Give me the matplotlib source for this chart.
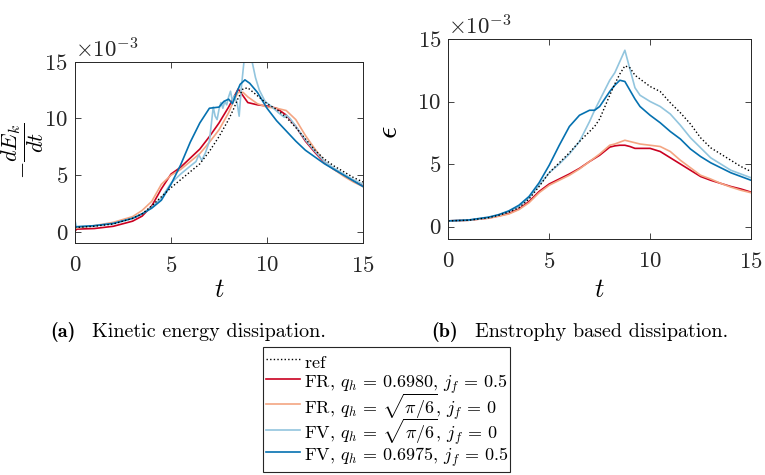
import numpy as np
import matplotlib as mpl
mpl.use("Agg")
from matplotlib import pyplot as plt

mpl.rcParams['font.family'] = 'serif'
mpl.rcParams['font.serif'] = ['cmr10']
mpl.rcParams['mathtext.fontset'] = 'cm'
mpl.rcParams['axes.formatter.use_mathtext'] = True
mpl.rcParams['axes.unicode_minus'] = False

# colours (RdBu)
c_fr1 = '#ca0020'
c_fr2 = '#f4a582'
c_fv1 = '#92c5de'
c_fv2 = '#0571b0'

labels = [r'$\mathrm{ref}$',
          r'FR, $q_h \,=\, 0.6980$, $j_f \,=\, 0.5$',
          r'FR, $q_h \,=\, \sqrt{\pi/6}$, $j_f \,=\, 0$',
          r'FV, $q_h \,=\, \sqrt{\pi/6}$, $j_f \,=\, 0$',
          r'FV, $q_h \,=\, 0.6975$, $j_f \,=\, 0.5$']

# ---- (a) kinetic energy dissipation, values in 1e-3 ----
t_a = [0, 0.1, 1, 2, 3, 3.5, 4, 4.5, 5, 5.5, 6, 6.5, 7, 7.5, 8, 8.25, 8.5, 8.75,
       9, 9.5, 10, 10.5, 11, 11.5, 12, 12.5, 13, 13.5, 14, 14.5, 15]
ref_a = [0.4, 0.4, 0.5, 0.7, 1.2, 1.6, 2.3, 3.1, 3.9, 4.6, 5.3, 6.0, 7.1, 8.4, 9.9, 10.8,
         11.8, 12.6, 12.7, 12.0, 11.3, 10.8, 10.1, 9.2, 8.2, 7.2, 6.4, 5.8, 5.3, 4.8, 4.4]
fr1_a = [0.1, 0.25, 0.3, 0.5, 0.95, 1.4, 2.3, 3.8, 5.1, 5.7, 6.5, 7.3, 8.4, 9.6, 11.0, 11.8,
         12.6, 12.0, 11.4, 11.2, 11.1, 10.9, 10.3, 9.3, 8.0, 7.0, 6.1, 5.5, 5.0, 4.5, 4.1]
fr2_a = [0.35, 0.35, 0.55, 0.85, 1.35, 1.9, 2.7, 4.2, 5.0, 5.5, 6.2, 6.9, 7.9, 9.0, 10.5, 11.5,
         12.3, 12.3, 11.9, 11.3, 11.0, 10.9, 10.7, 9.9, 8.5, 7.3, 6.2, 5.5, 4.9, 4.4, 4.0]
t_a2 = [0, 1, 2, 3, 3.5, 4, 4.5, 5, 5.5, 6, 6.5, 7, 7.5, 7.75, 8, 8.2, 8.4, 8.6, 8.85,
        9.1, 9.5, 10, 10.5, 11, 11.5, 12, 12.5, 13, 13.5, 14, 14.5, 15]
fv2_a = [0.45, 0.55, 0.75, 1.2, 1.6, 2.1, 2.8, 4.2, 5.9, 7.9, 9.6, 10.9, 11.0, 11.5, 11.7,
         11.3, 12.2, 13.0, 13.4, 13.1, 12.3, 10.9, 9.8, 8.9, 8.0, 7.2, 6.6, 6.0, 5.5, 5.0, 4.5, 4.0]
t_a3 = [0, 0.08, 1, 2, 3, 3.5, 4, 4.5, 5, 5.5, 6, 6.3, 6.45, 6.6, 6.8, 7.0, 7.1, 7.2, 7.3,
        7.4, 7.5, 7.6, 7.7, 7.8, 7.9, 8.0, 8.1, 8.2, 8.3, 8.45, 8.55, 8.65, 8.8, 8.95, 9.1,
        9.25, 9.4, 9.6, 9.9, 10.2, 10.6, 10.9, 11.0, 11.2, 11.5, 12, 12.5, 13, 13.5, 14, 14.5, 15]
fv1_a = [1.0, 0.45, 0.55, 0.75, 1.2, 1.6, 2.2, 3.0, 4.3, 5.1, 5.8, 6.2, 6.8, 6.3, 7.0, 8.0,
         9.5, 11.0, 10.2, 9.9, 10.8, 11.4, 10.9, 11.5, 11.2, 11.9, 12.4, 11.5, 12.0, 11.3,
         10.2, 12.5, 15.0, 15.8, 15.9, 14.8, 13.6, 12.5, 11.5, 11.1, 10.5, 10.1, 10.3, 10.0,
         9.3, 8.1, 7.1, 6.2, 5.6, 5.1, 4.6, 4.2]

# ---- (b) enstrophy based dissipation, values in 1e-3 ----
t_b = [0, 1, 2, 2.5, 3, 3.5, 4, 4.5, 5, 5.5, 6, 6.5, 7, 7.25, 7.5, 8, 8.25, 8.5, 8.75,
       9, 9.25, 9.5, 10, 10.5, 11, 11.5, 12, 12.5, 13, 13.5, 14, 14.5, 15]
ref_b = [0.45, 0.5, 0.7, 0.9, 1.15, 1.5, 2.2, 3.2, 4.3, 5.1, 5.9, 6.8, 7.6, 8.0, 8.6, 10.5,
         11.4, 12.2, 12.85, 12.7, 12.1, 11.8, 11.2, 10.8, 9.9, 9.1, 8.2, 7.1, 6.3, 5.8, 5.3, 4.8, 4.4]
fr1_b = [0.45, 0.5, 0.68, 0.85, 1.05, 1.4, 2.0, 2.8, 3.4, 3.8, 4.2, 4.65, 5.2, 5.45, 5.7, 6.35,
         6.45, 6.5, 6.5, 6.4, 6.25, 6.25, 6.25, 6.0, 5.5, 5.0, 4.5, 4.0, 3.7, 3.45, 3.2, 3.0, 2.75]
fr2_b = [0.45, 0.5, 0.66, 0.82, 1.0, 1.35, 1.9, 2.7, 3.3, 3.7, 4.1, 4.6, 5.2, 5.5, 5.8, 6.5,
         6.6, 6.75, 6.9, 6.8, 6.7, 6.6, 6.5, 6.4, 6.0, 5.3, 4.7, 4.1, 3.8, 3.45, 3.15, 2.9, 2.7]
fv1_b = [0.45, 0.5, 0.72, 0.92, 1.2, 1.6, 2.3, 3.3, 4.3, 5.0, 5.8, 6.8, 8.4, 9.3, 10.1, 11.7,
         12.3, 13.2, 14.1, 12.6, 11.1, 10.5, 10.0, 9.6, 9.0, 8.1, 7.1, 6.3, 5.5, 5.0, 4.5, 4.2, 3.9]
fv2_b = [0.45, 0.52, 0.75, 0.95, 1.25, 1.7, 2.4, 3.5, 4.9, 6.5, 8.0, 8.9, 9.3, 9.3, 9.6, 10.8,
         11.3, 11.7, 11.6, 10.9, 10.2, 9.6, 8.9, 8.3, 7.6, 7.0, 6.2, 5.6, 5.1, 4.7, 4.3, 4.0, 3.7]

fig = plt.figure(figsize=(7.65, 4.75), dpi=100)
W, H = 765.0, 475.0
ax1 = fig.add_axes([75 / W, 1 - 243.3 / H, 288 / W, 181.6 / H])
ax2 = fig.add_axes([448.3 / W, 1 - 239 / H, 302.7 / W, 200 / H])

lw = 1.2
s = 1e-3
ref_style = dict(color='k', lw=1.0, ls=(0, (1, 1.6)))

lines = []
for ax, data in [(ax1, [(t_a, fr1_a, c_fr1), (t_a, fr2_a, c_fr2), (t_a3, fv1_a, c_fv1),
                        (t_a2, fv2_a, c_fv2)]),
                 (ax2, [(t_b, fr1_b, c_fr1), (t_b, fr2_b, c_fr2), (t_b, fv1_b, c_fv1),
                        (t_b, fv2_b, c_fv2)])]:
    hs = []
    for t, v, c in data:
        h, = ax.plot(t, np.array(v) * s, color=c, lw=lw)
        hs.append(h)
    if ax is ax1:
        hr, = ax.plot(t_a, np.array(ref_a) * s, **ref_style)
        lines = [hr] + hs
    else:
        ax.plot(t_b, np.array(ref_b) * s, **ref_style)

for ax in (ax1, ax2):
    ax.set_xlim(0, 15)
    ax.set_ylim(-1e-3, 15e-3)
    ax.set_xticks([0, 5, 10, 15])
    ax.set_yticks([0, 5e-3, 10e-3, 15e-3])
    ax.ticklabel_format(axis='y', style='sci', scilimits=(-3, -3), useMathText=True)
    ax.yaxis.get_offset_text().set_fontsize(16.5)
    ax.tick_params(direction='in', length=4.5, width=0.6, colors='#262626',
                   labelsize=16.5, top=True, right=True)
    ax.tick_params(axis='x', pad=9)
    ax.tick_params(axis='y', pad=5)
    for sp in ax.spines.values():
        sp.set_color('#262626')
        sp.set_linewidth(0.7)

ax1.set_xlabel(r'$t$', fontsize=19, labelpad=2)
ax2.set_xlabel(r'$t$', fontsize=19, labelpad=5)

ax1.set_ylabel(r'$-\dfrac{dE_k}{dt}$', fontsize=16)
ax1.yaxis.set_label_coords(-0.10, 0.508)
ax2.set_ylabel(r'$\epsilon$', fontsize=22)
ax2.yaxis.set_label_coords(-0.150, 0.535)

# captions
fig.text(50 / W, 1 - 337 / H, '(a)', fontfamily='cmb10', fontsize=14.5, va='baseline')
fig.text(92 / W, 1 - 337 / H, 'Kinetic energy dissipation.', fontsize=14.5, va='baseline')
fig.text(431 / W, 1 - 337 / H, '(b)', fontfamily='cmb10', fontsize=14.5, va='baseline')
fig.text(475 / W, 1 - 337 / H, 'Enstrophy based dissipation.', fontsize=14.5, va='baseline')

leg = fig.legend(lines, labels, loc='upper left', bbox_to_anchor=(263 / W, 1 - 347 / H),
                 fontsize=13, frameon=True, fancybox=False, framealpha=1,
                 edgecolor='#262626', borderpad=0.15, labelspacing=-0.25,
                 handlelength=1.9, handleheight=1.7, handletextpad=0.2, borderaxespad=0)
leg.get_frame().set_linewidth(0.8)

fig.savefig('out.png', dpi=100)
